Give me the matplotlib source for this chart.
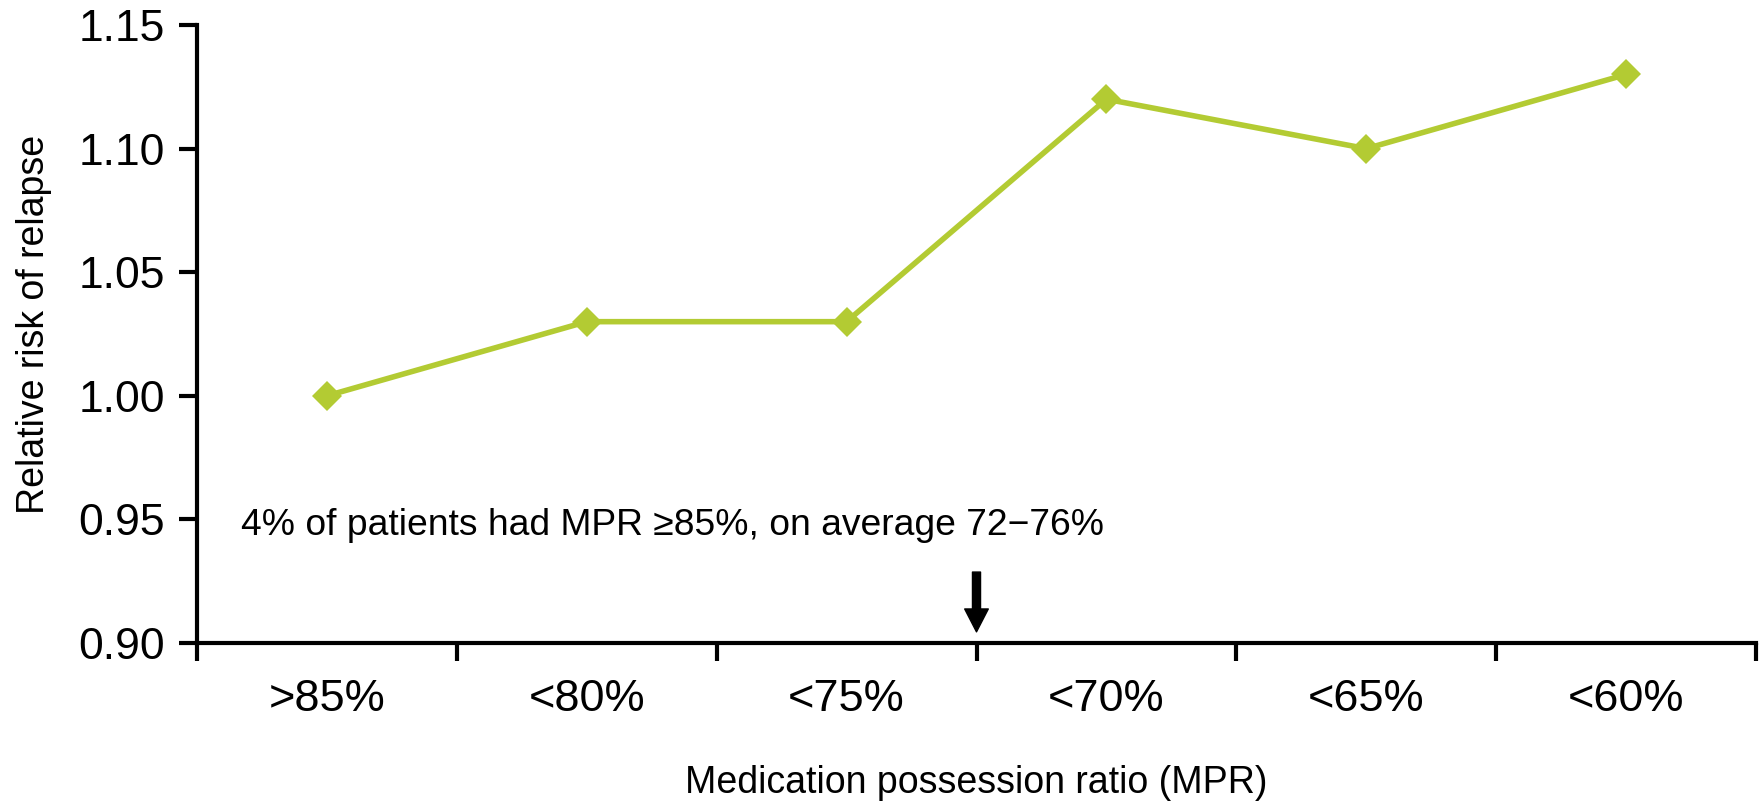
import matplotlib
matplotlib.use("Agg")
import matplotlib.pyplot as plt
import numpy as np

plt.rcParams['font.family'] = ['Liberation Sans', 'DejaVu Sans']

mpr_groups = ['>85%', '<80%', '<75%', '<70%', '<65%', '<60%']
relative_risk = [1.00, 1.03, 1.03, 1.12, 1.10, 1.13]
y_ticks = [0.90, 0.95, 1.00, 1.05, 1.10, 1.15]
note = '4% of patients had MPR \u226585%, on average 72\u221276%'

green = '#B3CB33'

fig = plt.figure(figsize=(17.62, 8.08), dpi=100)
ax = fig.add_axes([0.1118, 0.2042, 0.9966 - 0.1118, 0.969 - 0.2042])

x = np.arange(len(mpr_groups))
ax.plot(x, relative_risk, color=green, lw=4, marker='D', ms=15.5,
        markeredgewidth=0, zorder=3)

ax.set_xlim(-0.5, len(mpr_groups) - 0.5)
ax.set_ylim(0.90, 1.15)
ax.set_yticks(y_ticks)
ax.set_yticklabels([f'{v:.2f}' for v in y_ticks])

# category labels sit between the boundary ticks
ax.set_xticks(np.arange(-0.5, len(mpr_groups)), minor=False)
ax.set_xticklabels([])
ax.set_xticks(x, minor=True)
ax.set_xticklabels(mpr_groups, minor=True)
ax.tick_params(axis='x', which='major', direction='out', length=13, width=3)
ax.tick_params(axis='x', which='minor', length=0, pad=26, labelsize=32.5)
ax.tick_params(axis='y', direction='out', length=13, width=3, pad=10,
               labelsize=32)

for side in ['top', 'right']:
    ax.spines[side].set_visible(False)
for side in ['left', 'bottom']:
    ax.spines[side].set_linewidth(3)

ax.set_ylabel('Relative risk of relapse', fontsize=27, va='center')
ax.yaxis.set_label_coords(-0.1046, 0.515)
ax.set_xlabel('Medication possession ratio (MPR)', fontsize=27, va='center')
ax.xaxis.set_label_coords(0.5, -0.2265)

ax.text(-0.33, 0.9474, note, fontsize=26.8, va='center', ha='left')
ax.annotate('', xy=(2.5, 0.9045), xytext=(2.5, 0.9287),
            arrowprops=dict(width=5.8, headwidth=17, headlength=16.5,
                            shrink=0, color='black'))

fig.savefig('out.png', dpi=100)
